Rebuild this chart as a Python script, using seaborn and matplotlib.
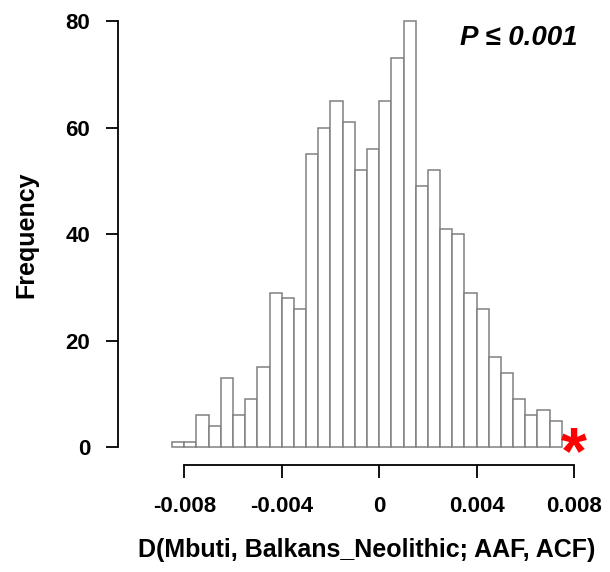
import matplotlib
matplotlib.use("Agg")
import matplotlib.pyplot as plt
import seaborn as sns
import pandas as pd

# Null distribution of D-statistics: bin counts over equal-width bins
bin_start = -0.0085
bin_width = 0.0005
counts = [1, 1, 6, 4, 13, 6, 9, 15, 29, 28, 26, 55, 60, 65, 61, 52,
          56, 65, 73, 80, 49, 52, 41, 40, 29, 26, 17, 14, 9, 6, 7, 5]
observed_d = 0.0080
x_ticks = [-0.008, -0.004, 0, 0.004, 0.008]
x_tick_labels = ["-0.008", "-0.004", "0", "0.004", "0.008"]
y_ticks = [0, 20, 40, 60, 80]
x_label = "D(Mbuti, Balkans_Neolithic; AAF, ACF)"
y_label = "Frequency"
p_text = "P ≤ 0.001"

edges = [bin_start + bin_width * i for i in range(len(counts) + 1)]
centers = [(a + b) / 2 for a, b in zip(edges[:-1], edges[1:])]
df = pd.DataFrame({"d": centers, "n": counts})

sns.set_style("white")
plt.rcParams["font.family"] = ["Liberation Sans", "DejaVu Sans"]
plt.rcParams["text.color"] = "black"

W, H = 610, 572
fig = plt.figure(figsize=(W / 100, H / 100), dpi=100)
left_px, right_px, top_px, bottom_px = 118, 590, 15, 465
ax = fig.add_axes([left_px / W, 1 - bottom_px / H,
                   (right_px - left_px) / W, (bottom_px - top_px) / H])

sns.histplot(data=df, x="d", weights="n", bins=edges, ax=ax,
             color="white", edgecolor="#808080", linewidth=1.1, alpha=1)

# scale: pixels per data unit
px_x = (574.0 - 184.3) / 0.016
px_y = (447.3 - 21.0) / 80
x0 = -0.008 - (184.3 - left_px) / px_x
ax.set_xlim(x0, x0 + (right_px - left_px) / px_x)
y0 = -(bottom_px - 447.3) / px_y
ax.set_ylim(y0, y0 + (bottom_px - top_px) / px_y)

for s in ["top", "right"]:
    ax.spines[s].set_visible(False)
ax.spines["left"].set_bounds(0, 80)
ax.spines["bottom"].set_bounds(-0.008, 0.008)
for s in ["left", "bottom"]:
    ax.spines[s].set_linewidth(1.3)
    ax.spines[s].set_color("black")

ax.set_xticks(x_ticks)
ax.set_xticklabels(x_tick_labels, fontweight="bold")
ax.set_yticks(y_ticks)
ax.set_yticklabels([str(v) for v in y_ticks], fontweight="bold")
ax.tick_params(axis="both", which="major", length=9, width=1.3,
               color="black", labelsize=16, labelcolor="black", pad=11,
               bottom=True, left=True)
ax.tick_params(axis="x", pad=13)
ax.set_xlabel("")
ax.set_ylabel("")

# observed value, marked just past the last bin
ax.annotate("*", xy=(observed_d, 0), xytext=(0, -9),
            textcoords="offset pixels", color="#ff0000", fontsize=48,
            fontweight="bold", ha="center", va="center")

fig.text(367 / W, 1 - 550 / H, x_label, ha="center", va="center",
         fontsize=18, fontweight="bold", color="black")
fig.text(26 / W, 1 - 235 / H, y_label, ha="center", va="center",
         rotation=90, fontsize=18, fontweight="bold", color="black")
fig.text(578 / W, 1 - 38 / H, p_text, ha="right", va="center",
         fontsize=20, fontweight="bold", fontstyle="italic", color="black")

fig.savefig("out.png", dpi=100, facecolor="white")
